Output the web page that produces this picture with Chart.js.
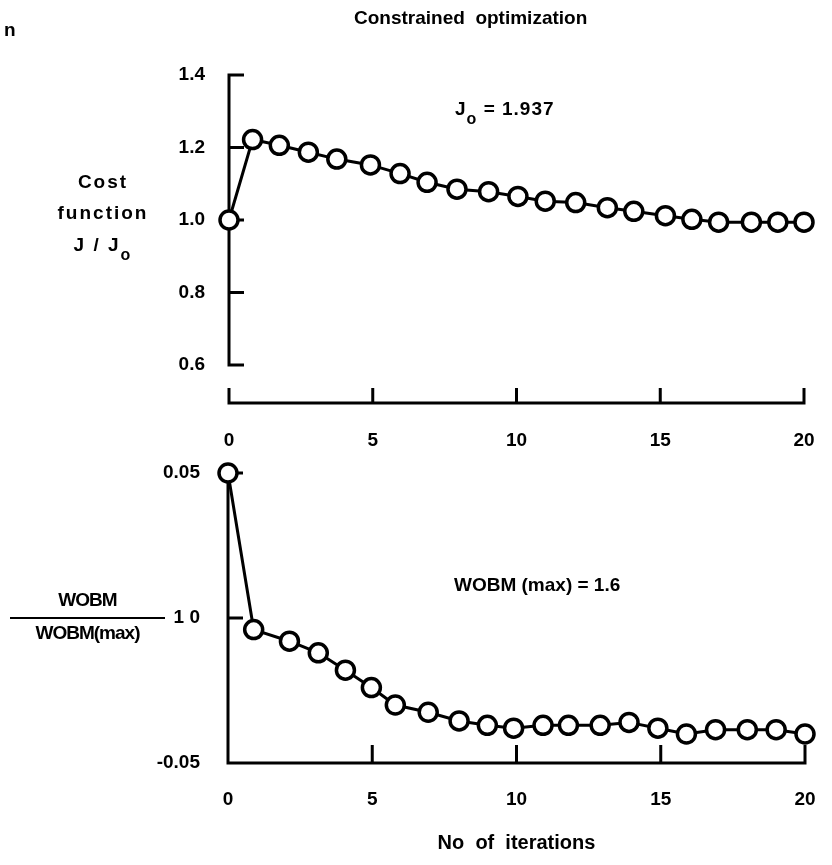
<!DOCTYPE html>
<html>
<head>
<meta charset="utf-8">
<script src="https://cdn.jsdelivr.net/npm/chart.js@4.4.0/dist/chart.umd.min.js"></script>
<style>
  html, body { margin: 0; padding: 0; background: #fff; }
  body { width: 832px; height: 865px; position: relative; overflow: hidden;
         font-family: 'Liberation Sans', Arial, sans-serif; font-weight: bold; color: #000; }
  .wrap { position: absolute; left: 0; width: 832px; }
  #topWrap { top: 0; height: 460px; }
  #bottomWrap { top: 440px; height: 425px; }
  .txt { position: absolute; white-space: nowrap; font-size: 19px; letter-spacing: 1px; line-height: 22px; }
  .sub { font-size: 16px; position: relative; top: 9px; }
  .rule { position: absolute; height: 0; border-top: 2px solid #000; }
</style>
</head>
<body>
<div id="topWrap" class="wrap"><canvas id="costChart"></canvas></div>
<div id="bottomWrap" class="wrap"><canvas id="wobmChart"></canvas></div>

<div class="txt" style="left:4px; top:19px;">n</div>
<div class="txt" style="left:354px; top:7px; letter-spacing:0;">Constrained&nbsp; optimization</div>
<div class="txt" style="left:455px; top:98px;">J<span class="sub">o</span> = 1.937</div>
<div class="txt" style="left:23px; top:171px; width:160px; text-align:center; letter-spacing:2px;">Cost</div>
<div class="txt" style="left:23px; top:202px; width:160px; text-align:center; letter-spacing:2px;">function</div>
<div class="txt" style="left:23px; top:234px; width:160px; text-align:center; letter-spacing:2px;">J / J<span class="sub">o</span></div>
<div class="txt" style="left:454px; top:574px; letter-spacing:0;">WOBM (max) = 1.6</div>
<div class="txt" style="left:10px; top:589px; width:155px; text-align:center; letter-spacing:-1px;">WOBM</div>
<div class="rule" style="left:10px; top:617px; width:155px;"></div>
<div class="txt" style="left:10px; top:622px; width:155px; text-align:center; letter-spacing:-1px;">WOBM(max)</div>

<script>
const costIter = [0, 0.82, 1.75, 2.76, 3.75, 4.92, 5.95, 6.89, 7.93, 9.03, 10.05, 11.0, 12.06, 13.16, 14.08, 15.18, 16.1, 17.03, 18.17, 19.09, 20];
const costValues = [1.0, 1.222, 1.206, 1.187, 1.168, 1.152, 1.128, 1.104, 1.085, 1.078, 1.065, 1.052, 1.048, 1.034, 1.024, 1.012, 1.002, 0.994, 0.994, 0.994, 0.994];

const wobmIter = [0, 0.89, 2.13, 3.13, 4.07, 4.97, 5.8, 6.94, 8.01, 8.99, 9.9, 10.92, 11.8, 12.9, 13.9, 14.9, 15.89, 16.9, 18.0, 19.0, 20];
const wobmValues = [0.05, -0.004, -0.008, -0.012, -0.018, -0.024, -0.030, -0.0325, -0.0355, -0.037, -0.038, -0.037, -0.037, -0.037, -0.036, -0.038, -0.040, -0.0385, -0.0385, -0.0385, -0.040];

const iterTicks = [0, 5, 10, 15, 20];
const costTicks = [0.6, 0.8, 1.0, 1.2, 1.4];
const costTickLabels = ['0.6', '0.8', '1.0', '1.2', '1.4'];
const wobmTicks = [-0.05, 0, 0.05];
const wobmTickLabels = ['-0.05', '1 0', '0.05'];

Chart.defaults.font.family = "'Liberation Sans', Arial, sans-serif";
Chart.defaults.font.weight = 'bold';
Chart.defaults.font.size = 19;
Chart.defaults.color = '#000';

// axis lines with inward ticks, drawn from the chart's own scales
const axisFrame = {
  id: 'axisFrame',
  beforeDatasetsDraw(chart, args, opts) {
    const { ctx, scales: { x, y }, chartArea } = chart;
    const x0 = x.getPixelForValue(x.min);
    const axisY = chartArea.bottom + opts.xGap;
    ctx.save();
    ctx.strokeStyle = '#000';
    ctx.lineWidth = 3;
    ctx.beginPath();
    ctx.moveTo(x0, y.getPixelForValue(y.max) - 1.5);
    ctx.lineTo(x0, y.getPixelForValue(y.min) + 1.5);
    y.ticks.forEach((t) => {
      const py = y.getPixelForValue(t.value);
      ctx.moveTo(x0, py);
      ctx.lineTo(x0 + opts.yTick, py);
    });
    ctx.moveTo(x0 - 1.5, axisY);
    ctx.lineTo(x.getPixelForValue(x.max) + 1.5, axisY);
    x.ticks.forEach((t) => {
      const px = x.getPixelForValue(t.value);
      ctx.moveTo(px, axisY);
      ctx.lineTo(px, axisY - opts.xTick);
    });
    ctx.stroke();
    ctx.restore();
  },
};

function lineDataset(xs, ys) {
  return {
    data: xs.map((v, i) => ({ x: v, y: ys[i] })),
    borderColor: '#000',
    borderWidth: 3,
    pointRadius: 9,
    pointBorderWidth: 3.5,
    pointBackgroundColor: '#fff',
    pointBorderColor: '#000',
    tension: 0,
    clip: false,
  };
}

function makeChart(id, xs, ys, yTicks, yLabels, cfg) {
  return new Chart(document.getElementById(id), {
    type: 'line',
    data: { datasets: [lineDataset(xs, ys)] },
    options: {
      responsive: true,
      maintainAspectRatio: false,
      animation: false,
      events: [],
      layout: { padding: cfg.padding },
      plugins: {
        legend: { display: false },
        tooltip: { enabled: false },
        axisFrame: cfg.frame,
      },
      scales: {
        x: {
          type: 'linear',
          min: 0,
          max: 20,
          grid: { display: false },
          border: { display: false },
          afterBuildTicks: (s) => { s.ticks = iterTicks.map((v) => ({ value: v })); },
          afterFit: (s) => {
            s.height = cfg.xHeight;
            // keep the label padding from squeezing the plot sideways
            s.paddingLeft = 0;
            s.paddingRight = 0;
          },
          ticks: { padding: cfg.xPad, maxRotation: 0, callback: (v) => String(v) },
          title: cfg.xTitle,
        },
        y: {
          type: 'linear',
          min: yTicks[0],
          max: yTicks[yTicks.length - 1],
          grid: { display: false },
          border: { display: false },
          afterBuildTicks: (s) => { s.ticks = yTicks.map((v) => ({ value: v })); },
          afterFit: (s) => { s.width = 110; s.paddingTop = 0; s.paddingBottom = 0; },
          ticks: {
            padding: cfg.yPad,
            callback: (v) => yLabels[yTicks.findIndex((t) => Math.abs(t - v) < 1e-9)],
          },
        },
      },
    },
    plugins: [axisFrame],
  });
}

makeChart('costChart', costIter, costValues, costTicks, costTickLabels, {
  padding: { left: 119, right: 28, top: 75, bottom: 0 },
  xHeight: 95,
  xPad: 56,
  yPad: 16,
  frame: { xGap: 38, xTick: 15, yTick: 15 },
  xTitle: { display: false },
});

makeChart('wobmChart', wobmIter, wobmValues, wobmTicks, wobmTickLabels, {
  padding: { left: 118, right: 27, top: 33, bottom: 0 },
  xHeight: 102,
  xPad: 17,
  yPad: 20,
  frame: { xGap: 0, xTick: 18, yTick: 15 },
  xTitle: { display: true, text: 'No  of  iterations', font: { size: 20 }, padding: { top: 0, bottom: 10 } },
});
</script>
</body>
</html>
